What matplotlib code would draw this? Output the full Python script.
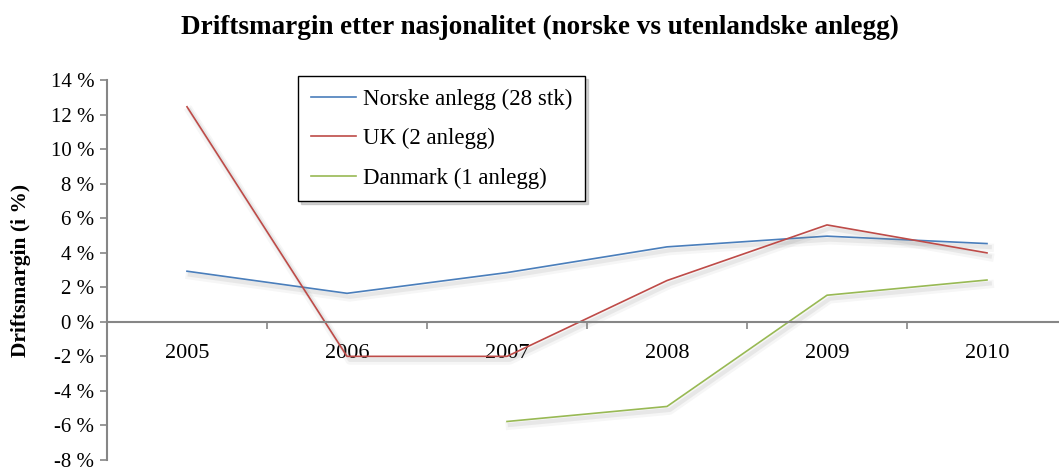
import numpy as np
import matplotlib
matplotlib.use("Agg")
import matplotlib.pyplot as plt
import matplotlib.patheffects as pe

plt.rcParams['font.family'] = ['Liberation Serif', 'DejaVu Serif']

# ---- data ----
years = ["2005", "2006", "2007", "2008", "2009", "2010"]
norske = [2.93, 1.65, 2.85, 4.34, 4.96, 4.53]
uk = [12.45, -2.0, -2.0, 2.39, 5.61, 3.99]
danmark = [np.nan, np.nan, -5.77, -4.90, 1.54, 2.42]

labels = ["Norske anlegg (28 stk)", "UK (2 anlegg)", "Danmark (1 anlegg)"]
colors = ["#4A7EBB", "#BE4B48", "#98B954"]
yticks = np.arange(-8, 15, 2)

# ---- figure ----
W, H = 1059, 472
fig = plt.figure(figsize=(W / 100, H / 100), dpi=100)
ax = fig.add_axes([107 / W, 12 / H, 960 / W, 380 / H])

x = np.arange(len(years))
# myk skygge under linjene
shadow = [pe.SimpleLineShadow(offset=(2, -3), shadow_color="#808080", alpha=0.07, linewidth=6),
          pe.SimpleLineShadow(offset=(2, -2.5), shadow_color="#808080", alpha=0.12, linewidth=3),
          pe.Normal()]
for serie, lab, c in zip((norske, uk, danmark), labels, colors):
    ax.plot(x, serie, color=c, lw=1.2, label=lab, path_effects=shadow)

ax.set_xlim(-0.5, len(years) - 0.5)
ax.set_ylim(-8, 14)

# akser i Excel-stil
gray = "#868686"
for s in ("top", "right"):
    ax.spines[s].set_visible(False)
ax.spines["bottom"].set_position(("data", 0))
ax.spines["left"].set_color(gray)
ax.spines["bottom"].set_color(gray)
ax.spines["left"].set_linewidth(1.5)
ax.spines["bottom"].set_linewidth(1.5)

ax.set_yticks(yticks)
ax.set_yticklabels([f"{v} %" for v in yticks])
ax.tick_params(axis="y", direction="out", length=5, width=1.2, color=gray,
               labelsize=15, pad=4)

ax.set_xticks(np.arange(len(years) + 1) - 0.5)
ax.set_xticklabels([])
ax.set_xticks(x, minor=True)
ax.set_xticklabels(years, minor=True)
ax.tick_params(axis="x", which="major", direction="out", length=5, width=1.2, color=gray)
ax.tick_params(axis="x", which="minor", length=0, labelsize=16, pad=16)

ax.set_ylabel("Driftsmargin (i %)", fontsize=15.5, fontweight="bold")
ax.yaxis.set_label_coords(-76 / 960, 0.5)

fig.text(540 / W, 1 - 27 / H, "Driftsmargin etter nasjonalitet (norske vs utenlandske anlegg)",
         ha="center", va="center", fontsize=19.5, fontweight="bold")

leg = ax.legend(loc="upper left", bbox_to_anchor=(298 / W, 1 - 76 / H),
                bbox_transform=fig.transFigure, fontsize=16.5, frameon=True,
                fancybox=False, shadow={"color": "#aaaaaa", "alpha": 0.5},
                handlelength=2.0, handletextpad=0.3, labelspacing=0.8,
                borderpad=0.55, borderaxespad=0)
leg.get_frame().set_edgecolor("black")
leg.get_frame().set_linewidth(1.0)
for line in leg.get_lines():
    line.set_path_effects([])

fig.savefig("out.png", dpi=100)
